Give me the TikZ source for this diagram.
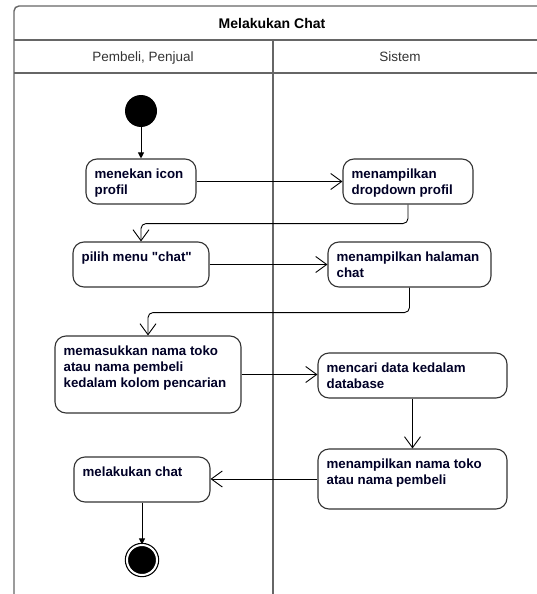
\documentclass[tikz,border=0pt]{standalone}
\usepackage{fontspec}
\setmainfont{Liberation Sans}[Ligatures=TeXOff]
\usetikzlibrary{arrows.meta}

\begin{document}
\begin{tikzpicture}[x=1pt,y=-1pt,
    lane/.style={draw=black!60,line width=1.4pt},
    act/.style={shape=rectangle,draw=black!80,line width=1.1pt,rounded corners=11pt,inner sep=0pt},
    txt/.style={anchor=north west,inner sep=0pt,align=left,text=black!85!blue,font=\bfseries\fontsize{13.3}{16}\selectfont},
    flow/.style={-{Straight Barb[length=11pt,width=16pt]},line width=0.9pt,rounded corners=5pt},
    tip/.style={-{Triangle[length=6pt,width=6pt]},line width=0.9pt}]
    \useasboundingbox (0,0) rectangle (537,594);
    \draw[lane,rounded corners=5pt] (14,600) -- (14,6) -- (550,6) -- (550,600);
    \draw[lane] (14,40) -- (550,40);
    \draw[lane] (14,73) -- (550,73);
    \draw[lane] (273,40) -- (273,600);
    \node[anchor=base,font=\bfseries\fontsize{14}{16}\selectfont] (title) at (272,29) {Melakukan Chat};
    \node[anchor=base,text=black!80,font=\fontsize{13.5}{16}\selectfont] (pembeli) at (143,62) {Pembeli, Penjual};
    \node[anchor=base,text=black!80,font=\fontsize{13.5}{16}\selectfont] (sistem) at (400,62) {Sistem};
    \node[shape=circle,fill=black,minimum size=32pt,inner sep=0pt] (0) at (141,111) {};
    \node[act,minimum width=110pt,minimum height=45pt] (1) at (141,181.5) {};
    \node[act,minimum width=130pt,minimum height=45pt] (2) at (408,181.5) {};
    \node[act,minimum width=136pt,minimum height=45pt] (3) at (141,264.5) {};
    \node[act,minimum width=163pt,minimum height=45pt] (4) at (409.5,264.5) {};
    \node[act,minimum width=186pt,minimum height=77pt] (5) at (148,374.5) {};
    \node[act,minimum width=189pt,minimum height=45pt] (6) at (412.5,375.5) {};
    \node[act,minimum width=189pt,minimum height=60pt] (7) at (412.5,479) {};
    \node[act,minimum width=136pt,minimum height=45pt] (8) at (142,479.5) {};
    \node[shape=circle,draw=black,fill=black,line width=1.2pt,double=white,double distance=2pt,minimum size=30pt,inner sep=0pt] (9) at (142,560) {};
    \node[txt] (t1) at ([shift={(9,10.5)}]1.north west) {menekan icon\\profil};
    \node[txt] (t2) at ([shift={(9,10.5)}]2.north west) {menampilkan\\dropdown profil};
    \node[txt] (t3) at ([shift={(9,10.5)}]3.north west) {pilih menu "chat"};
    \node[txt] (t4) at ([shift={(9,10.5)}]4.north west) {menampilkan halaman\\chat};
    \node[txt] (t5) at ([shift={(9,10.5)}]5.north west) {memasukkan nama toko\\atau nama pembeli\\kedalam kolom pencarian};
    \node[txt] (t6) at ([shift={(9,10.5)}]6.north west) {mencari data kedalam\\database};
    \node[txt] (t7) at ([shift={(9,10.5)}]7.north west) {menampilkan nama toko\\atau nama pembeli};
    \node[txt] (t8) at ([shift={(9,10.5)}]8.north west) {melakukan chat};
    \path[tip] (0) edge (1);
    \path[flow] (1) edge (2);
    \draw[flow] (2.south) -- ++(0,19) -| (3.north);
    \path[flow] (3) edge (4);
    \draw[flow] (4.south) -- ++(0,25) -| (5.north);
    \draw[flow] (5.east) -- (5.east -| 6.west);
    \path[flow] (6) edge (7);
    \draw[flow] (7.west) -- (7.west -| 8.east);
    \path[tip] (8) edge (9);
\end{tikzpicture}
\end{document}
